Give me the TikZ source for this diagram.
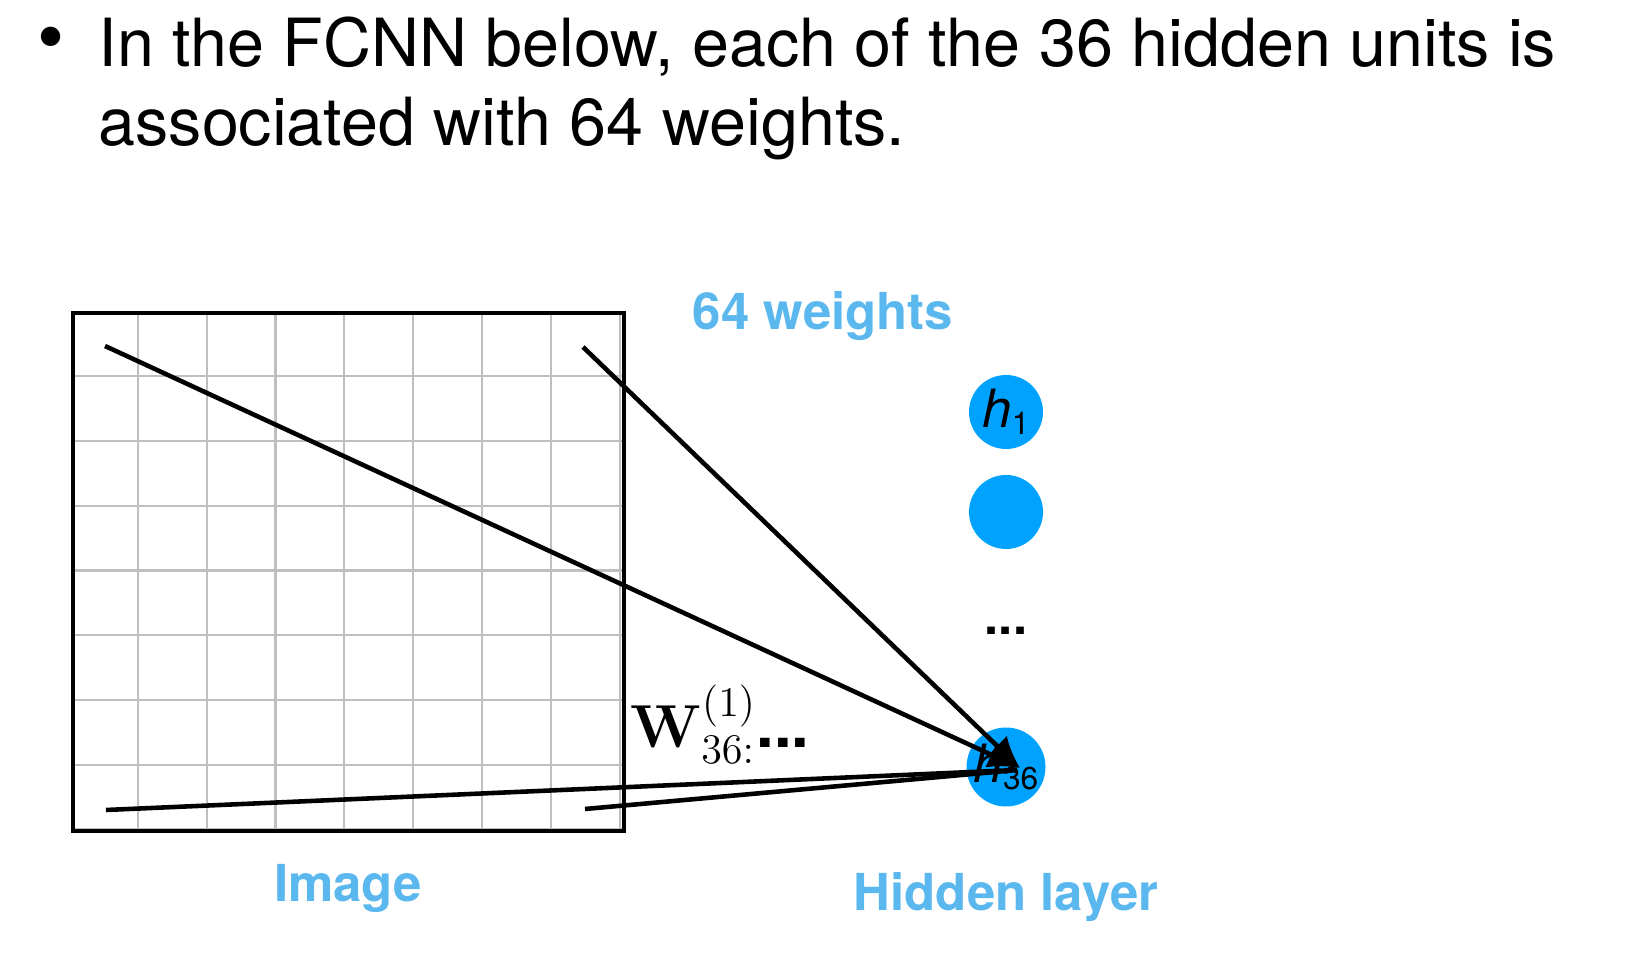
\documentclass[tikz,border=0pt]{standalone}
\usepackage{amsmath}
\usepackage[no-math]{fontspec}
\setmainfont{TeX Gyre Heros}
\usetikzlibrary{arrows.meta}
\definecolor{unitblue}{HTML}{00A2FF}
\definecolor{labelblue}{HTML}{5BB8EE}
\tikzset{
  unit/.style={circle,fill=unitblue,minimum size=0.74cm,inner sep=0pt,font=\fontsize{15}{15}\selectfont},
  caption/.style={text=labelblue,font=\fontsize{14.5}{14.5}\selectfont\bfseries},
  link/.style={line width=1.3pt},
}
\begin{document}
\begin{tikzpicture}
\useasboundingbox (0,0) rectangle (16.26,9.59);
% bullet text
\node[anchor=west,font=\fontsize{22}{22}\selectfont] at (0.25,9.14) {\textbullet};
\node[anchor=north west,align=left,font=\fontsize{18.9}{22.5}\selectfont,inner sep=0pt] at (0.98,9.43)
 {In the FCNN below, each of the 36 hidden units is\\associated with 64 weights.};
% image grid
\draw[gray!50,line width=0.6pt,xstep=0.68875,ystep=0.6475] (0.73,1.28) grid (6.24,6.46);
\draw[line width=0.9pt] (0.73,1.28) rectangle (6.24,6.46);
% hidden units
\node[unit] (h1) at (10.06,5.47) {\textit{h}\raisebox{-2pt}{\small 1}};
\node[unit] (h2) at (10.06,4.47) {};
\node[font=\Large\bfseries] (hd) at (10.06,3.28) {...};
\node[unit] (h36) at (10.06,1.92) {\textit{h}\raisebox{-2pt}{\small 36}};
% weights
\coordinate (p1) at (1.05,6.13);
\coordinate (p2) at (5.83,6.12);
\coordinate (p3) at (1.06,1.49);
\coordinate (p4) at (5.85,1.50);
\draw[link,-{Latex[length=9pt,width=8pt]}] (p1) -- (10.2,1.91);
\draw[link,-{Latex[length=9pt,width=8pt]}] (p2) -- (10.2,1.91);
\draw[link] (p3) -- (10.17,1.89);
\draw[link] (p4) -- (10.17,1.89);
\node[anchor=west,inner sep=0pt] (w) at (6.3,2.35) {\fontsize{18}{18}\selectfont$\mathbf{W}^{(1)}_{36:}$\textbf{...}};
% captions
\node[caption] (cw) at (8.23,6.43) {64 weights};
\node[caption] (ci) at (3.48,0.71) {Image};
\node[caption] (ch) at (10.06,0.62) {Hidden layer};
\end{tikzpicture}
\end{document}
